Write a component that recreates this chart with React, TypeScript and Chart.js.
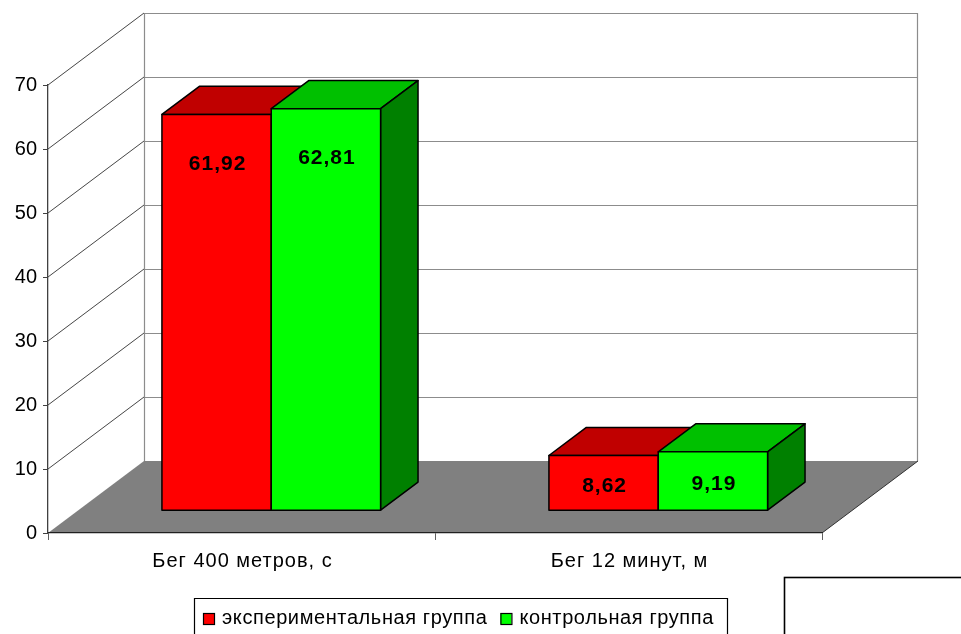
import React, { useEffect, useRef } from "react";
import { Chart, registerables } from "chart.js";

Chart.register(...registerables);

const categories = ["Бег 400 метров, с", "Бег 12 минут, м"];
const seriesNames = ["экспериментальная группа", "контрольная группа"];
const expValues = [61.92, 8.62];
const ctrlValues = [62.81, 9.19];
const valueLabelsExp = ["61,92", "8,62"];
const valueLabelsCtrl = ["62,81", "9,19"];
const yTicks = [0, 10, 20, 30, 40, 50, 60, 70];

const FRONT = ["#FF0000", "#00FF00"];
const TOP = ["#C00000", "#00C000"];
const SIDE = ["#900000", "#008000"];

const DX = 96;
const DY = -72;
const F1 = 0.31;
const DEPTH = 0.39;
const FONT = "'Liberation Sans', Arial, sans-serif";

function poly(ctx: CanvasRenderingContext2D, pts: number[][], fill: string | null, stroke: string | null, lw = 1) {
  ctx.beginPath();
  ctx.moveTo(pts[0][0], pts[0][1]);
  for (let i = 1; i < pts.length; i++) ctx.lineTo(pts[i][0], pts[i][1]);
  ctx.closePath();
  if (fill) {
    ctx.fillStyle = fill;
    ctx.fill();
  }
  if (stroke) {
    ctx.strokeStyle = stroke;
    ctx.lineWidth = lw;
    ctx.stroke();
  }
}

function line(ctx: CanvasRenderingContext2D, x1: number, y1: number, x2: number, y2: number, color: string, lw = 1) {
  ctx.beginPath();
  ctx.moveTo(x1, y1);
  ctx.lineTo(x2, y2);
  ctx.strokeStyle = color;
  ctx.lineWidth = lw;
  ctx.stroke();
}

const plugin3d = {
  id: "plugin3d",
  beforeDraw(chart: any) {
    const ctx: CanvasRenderingContext2D = chart.ctx;
    const { left, right } = chart.chartArea;
    const ys = chart.scales.y;
    const y0 = ys.getPixelForValue(0);
    const yTop = ys.getPixelForValue(70);
    ctx.save();
    poly(ctx, [[left, y0], [left, yTop], [left + DX, yTop + DY], [left + DX, y0 + DY]], "#FFFFFF", null);
    poly(ctx, [[left + DX, y0 + DY], [left + DX, yTop + DY], [right + DX, yTop + DY], [right + DX, y0 + DY]], "#FFFFFF", null);
    for (const v of yTicks) {
      const yy = ys.getPixelForValue(v);
      if (v > 0) {
        line(ctx, left + DX, yy + DY + 0.5, right + DX, yy + DY + 0.5, "#8C8C8C", 1.2);
        line(ctx, left, yy, left + DX, yy + DY, "#303030", 0.9);
      }
    }
    line(ctx, left + DX + 0.5, yTop + DY, left + DX + 0.5, y0 + DY, "#8C8C8C", 1.2);
    line(ctx, right + DX - 0.5, yTop + DY, right + DX - 0.5, y0 + DY, "#8C8C8C", 1.2);
    poly(ctx, [[left, y0], [right, y0], [right + DX, y0 + DY], [left + DX, y0 + DY]], "#808080", null);
    line(ctx, right, y0, right + DX, y0 + DY, "#303030", 1);
    ctx.restore();
  },
  beforeDatasetDraw() {
    return false;
  },
  afterDatasetsDraw(chart: any) {
    const ctx: CanvasRenderingContext2D = chart.ctx;
    const sx = F1 * DX;
    const sy = F1 * DY;
    const ddx = DEPTH * DX;
    const ddy = DEPTH * DY;
    const labelSets = [valueLabelsExp, valueLabelsCtrl];
    ctx.save();
    const n = chart.data.labels.length;
    for (let i = 0; i < n; i++) {
      for (let d = 0; d < chart.data.datasets.length; d++) {
        const meta = chart.getDatasetMeta(d);
        const el = meta.data[i];
        const p = el.getProps(["x", "y", "base", "width"], true);
        const l = p.x - p.width / 2 + sx;
        const r = p.x + p.width / 2 + sx;
        const t = p.y + sy;
        const b = p.base + sy;
        ctx.lineJoin = "round";
        poly(ctx, [[l, t], [r, t], [r + ddx, t + ddy], [l + ddx, t + ddy]], TOP[d], "#000000", 1.5);
        poly(ctx, [[r, t], [r + ddx, t + ddy], [r + ddx, b + ddy], [r, b]], SIDE[d], "#000000", 1.5);
        poly(ctx, [[l, t], [r, t], [r, b], [l, b]], FRONT[d], "#000000", 1.5);
      }
    }
    ctx.font = `bold 21px ${FONT}`;
    (ctx as any).letterSpacing = "1px";
    ctx.fillStyle = "#000000";
    ctx.textAlign = "center";
    ctx.textBaseline = "middle";
    for (let i = 0; i < n; i++) {
      for (let d = 0; d < chart.data.datasets.length; d++) {
        const el = chart.getDatasetMeta(d).data[i];
        const p = el.getProps(["x", "y", "base", "width"], true);
        const t = p.y + sy;
        const b = p.base + sy;
        const off = Math.min(50, (b - t) / 2 + 3);
        ctx.fillText(labelSets[d][i], p.x + sx + 1, t + off);
      }
    }
    ctx.restore();
  },
  afterDraw(chart: any) {
    const ctx: CanvasRenderingContext2D = chart.ctx;
    const xs = chart.scales.x;
    ctx.save();
    ctx.font = `20px ${FONT}`;
    (ctx as any).letterSpacing = "1px";
    ctx.fillStyle = "#000000";
    ctx.textAlign = "center";
    ctx.textBaseline = "alphabetic";
    chart.data.labels.forEach((lab: string, i: number) => {
      ctx.fillText(lab, xs.getPixelForValue(i) + 1, 567);
    });
    ctx.textAlign = "left";
    (ctx as any).letterSpacing = "0.6px";
    poly(ctx, [[194.5, 598.5], [727.5, 598.5], [727.5, 660], [194.5, 660]], "#FFFFFF", "#000000", 1.2);
    let x = 203;
    chart.data.datasets.forEach((ds: any, d: number) => {
      ctx.fillStyle = FRONT[d];
      ctx.fillRect(x, 613, 11, 11);
      ctx.strokeStyle = "#000000";
      ctx.lineWidth = 1.2;
      ctx.strokeRect(x + 0.5, 613.5, 11, 11);
      ctx.fillStyle = "#000000";
      ctx.fillText(ds.label, x + 19, 624);
      x = x + 19 + ctx.measureText(ds.label).width + 13;
    });
    ctx.strokeStyle = "#000000";
    ctx.lineWidth = 1.6;
    ctx.strokeRect(784.5, 577.5, 250, 100);
    ctx.restore();
  },
};

export default function App() {
  const ref = useRef<HTMLCanvasElement | null>(null);
  useEffect(() => {
    if (!ref.current) return;
    const chart = new Chart(ref.current, {
      type: "bar",
      data: {
        labels: categories,
        datasets: [
          { label: seriesNames[0], data: expValues, backgroundColor: FRONT[0] },
          { label: seriesNames[1], data: ctrlValues, backgroundColor: FRONT[1] },
        ],
      },
      options: {
        responsive: false,
        animation: false,
        devicePixelRatio: 1,
        layout: { padding: { top: 85, right: 139, left: 0, bottom: 0 } },
        plugins: { legend: { display: false }, tooltip: { enabled: false } },
        datasets: { bar: { categoryPercentage: 0.565, barPercentage: 1 } },
        scales: {
          x: {
            ticks: { display: false },
            grid: { drawOnChartArea: false, tickLength: 7, color: "#606060", offset: true },
            border: { color: "#202020", width: 1.3 },
            afterFit: (s: any) => {
              s.height = 101;
            },
          },
          y: {
            min: 0,
            max: 70,
            afterBuildTicks: (s: any) => {
              s.ticks = yTicks.map((v) => ({ value: v }));
            },
            ticks: {
              color: "#000000",
              font: { family: FONT, size: 20 },
              padding: 6,
            },
            grid: { drawOnChartArea: false, tickLength: 5, color: "#404040" },
            border: { color: "#404040", width: 1.3 },
            afterFit: (s: any) => {
              s.width = 48;
            },
          },
        },
      },
      plugins: [plugin3d],
    });
    return () => chart.destroy();
  }, []);
  return (
    <div style={{ position: "absolute", left: 0, top: 0, width: 961, height: 634, background: "#fff" }}>
      <canvas ref={ref} width={961} height={634} style={{ display: "block" }} />
    </div>
  );
}
